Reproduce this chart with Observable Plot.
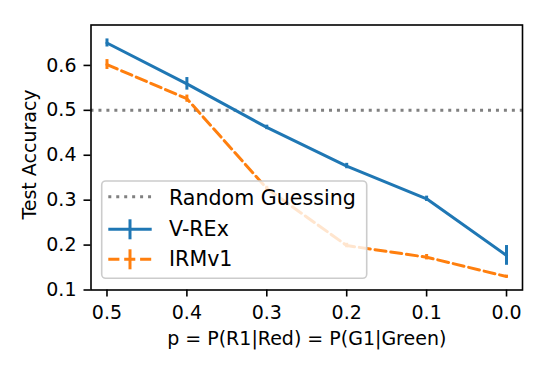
<!DOCTYPE html>
<html>
<head>
<meta charset="utf-8">
<script src="https://cdn.jsdelivr.net/npm/d3@7"></script>
<script src="https://cdn.jsdelivr.net/npm/@observablehq/plot@0.6"></script>
<style>
  html, body { margin: 0; padding: 0; background: white; }
  #wrap { position: relative; width: 548px; height: 370px; font-family: "DejaVu Sans", sans-serif; }
  #legend { position: absolute; left: 0; top: 0; pointer-events: none; }
</style>
</head>
<body>
<div id="wrap"></div>
<script>
// ---- data ----
const pValues = [0.5, 0.4, 0.3, 0.2, 0.1, 0.0];
const vrexMean = [0.650, 0.559, 0.462, 0.376, 0.303, 0.177];
const vrexErr  = [0.009, 0.014, 0.005, 0.006, 0.006, 0.022];
const irmMean  = [0.602, 0.526, 0.326, 0.199, 0.173, 0.130];
const irmErr   = [0.011, 0.008, 0.005, 0.005, 0.006, 0.003];
const randomGuess = 0.5;
const xTicks = [0.5, 0.4, 0.3, 0.2, 0.1, 0.0];
const yTicks = [0.1, 0.2, 0.3, 0.4, 0.5, 0.6];
const seriesNames = ["Random Guessing", "V-REx", "IRMv1"];
const xLabel = "p = P(R1|Red) = P(G1|Green)";
const yLabel = "Test Accuracy";

const blue = "#1f77b4", orange = "#ff7f0e", gray = "#808080";

const vrex = pValues.map((p, i) => ({p, m: vrexMean[i], e: vrexErr[i]}));
const irm = pValues.map((p, i) => ({p, m: irmMean[i], e: irmErr[i]}));

const chart = Plot.plot({
  width: 548,
  height: 370,
  marginLeft: 90.5,
  marginRight: 26,
  marginTop: 24.5,
  marginBottom: 80.5,
  x: {domain: [0.52, -0.02]},
  y: {domain: [0.1, 0.69]},
  style: {fontFamily: "DejaVu Sans", fontSize: "19px", color: "black", background: "white", overflow: "visible"},
  marks: [
    Plot.ruleY([randomGuess], {stroke: gray, strokeWidth: 3, strokeDasharray: "3,4.95"}),
    Plot.ruleX(vrex, {x: "p", y1: d => d.m - d.e, y2: d => d.m + d.e, stroke: blue, strokeWidth: 3}),
    Plot.line(vrex, {x: "p", y: "m", stroke: blue, strokeWidth: 3, strokeLinejoin: "round"}),
    Plot.ruleX(irm, {x: "p", y1: d => d.m - d.e, y2: d => d.m + d.e, stroke: orange, strokeWidth: 3}),
    Plot.line(irm, {x: "p", y: "m", stroke: orange, strokeWidth: 3, strokeDasharray: "11.1,4.8", strokeLinejoin: "round"}),
    Plot.frame({stroke: "black", strokeWidth: 1.6}),
    Plot.axisX({ticks: xTicks, tickFormat: d3.format(".1f"), tickSize: 7, tickPadding: 8.5, strokeWidth: 1.6, fontSize: 19, label: null}),
    Plot.axisY({ticks: yTicks, tickFormat: d3.format(".1f"), tickSize: 7, tickPadding: 7.5, strokeWidth: 1.6, fontSize: 19, label: null}),
    Plot.text([xLabel], {frameAnchor: "bottom", dy: 41.5, lineAnchor: "top", textAnchor: "middle", fontSize: 19, fill: "black"}),
    Plot.text([yLabel], {frameAnchor: "left", dx: -68.5, dy: -3, rotate: -90, lineAnchor: "top", textAnchor: "middle", fontSize: 19, fill: "black"})
  ]
});

const wrap = document.getElementById("wrap");
wrap.appendChild(chart);

// ---- legend overlay (matplotlib-style, semi-transparent) ----
const ns = "http://www.w3.org/2000/svg";
const leg = document.createElementNS(ns, "svg");
leg.setAttribute("id", "legend");
leg.setAttribute("width", 548);
leg.setAttribute("height", 370);
function el(tag, attrs, text) {
  const e = document.createElementNS(ns, tag);
  for (const k in attrs) e.setAttribute(k, attrs[k]);
  if (text) e.textContent = text;
  leg.appendChild(e);
  return e;
}
el("rect", {x: 101.7, y: 181, width: 265, height: 97.3, rx: 4, fill: "white", "fill-opacity": 0.8, stroke: "#cccccc", "stroke-width": 1.6});
const hx0 = 108.3, hx1 = 151.7, hxm = 130, tx = 169;
const rows = [196.7, 229.3, 259.3];
el("line", {x1: hx0, x2: hx1, y1: rows[0], y2: rows[0], stroke: gray, "stroke-width": 3, "stroke-dasharray": "3,4.95"});
el("line", {x1: hx0, x2: hx1, y1: rows[1], y2: rows[1], stroke: blue, "stroke-width": 3});
el("line", {x1: hxm, x2: hxm, y1: rows[1] - 10, y2: rows[1] + 10, stroke: blue, "stroke-width": 3});
el("line", {x1: hx0, x2: hx1, y1: rows[2], y2: rows[2], stroke: orange, "stroke-width": 3, "stroke-dasharray": "11.1,4.8"});
el("line", {x1: hxm, x2: hxm, y1: rows[2] - 10, y2: rows[2] + 10, stroke: orange, "stroke-width": 3});
const baselines = [205.3, 236, 266];
seriesNames.forEach((name, i) => {
  el("text", {x: tx, y: baselines[i], "font-family": "DejaVu Sans", "font-size": 20.6, fill: "black"}, name);
});
wrap.appendChild(leg);
</script>
</body>
</html>
